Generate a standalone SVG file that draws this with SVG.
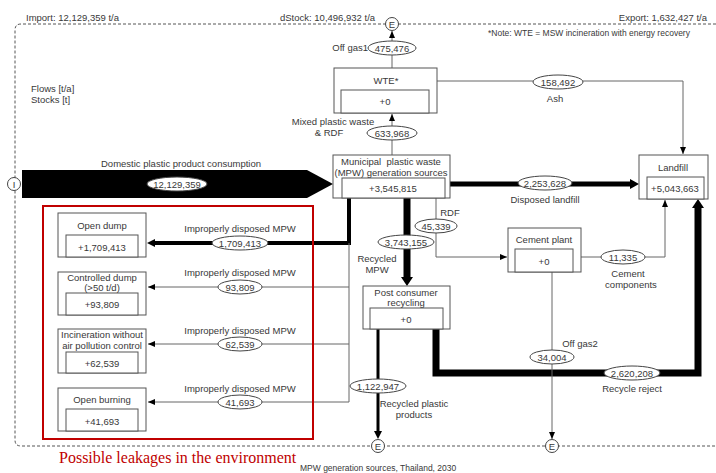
<svg xmlns="http://www.w3.org/2000/svg" width="716" height="473" viewBox="0 0 716 473">
<style>
text{font-family:"Liberation Sans",Arial,sans-serif;font-size:9.5px;fill:#383838;text-anchor:middle}
.s{text-anchor:start}
.e{text-anchor:end}
.box{fill:#fff;stroke:#555;stroke-width:1}
.el{fill:#fff;stroke:#444;stroke-width:1}
.thin{fill:none;stroke:#666;stroke-width:1}
.blk{fill:none;stroke:#000}
.hd{fill:#000}
.circ{fill:#fff;stroke:#444;stroke-width:1}
</style>
<defs>
<marker id="ar" markerUnits="userSpaceOnUse" markerWidth="8" markerHeight="7" refX="7" refY="3" orient="auto">
<path d="M0,0 L7,3 L0,6 z" fill="#000"/>
</marker>
</defs>
<rect width="716" height="473" fill="#fff"/>
<path d="M716,24 H21 Q15,24 15,30 V440 Q15,446 21,446 H716" fill="none" stroke="#555" stroke-dasharray="3,2"/>
<text class="s" x="26" y="21">Import: 12,129,359 t/a</text>
<text class="s" x="280" y="21">dStock: 10,496,932 t/a</text>
<text class="e" x="707" y="21">Export: 1,632,427 t/a</text>
<text class="s" x="488" y="36" style="font-size:8.5px">*Note: WTE = MSW incineration with energy recovery</text>
<text class="s" x="31" y="92">Flows  [t/a]</text>
<text class="s" x="31" y="103">Stocks [t]</text>

<g id="connectors">
<polygon points="22,170 307,170 333,184 307,198 22,198" fill="#000"/>
<line class="thin" x1="392" y1="68" x2="392" y2="31" marker-end="url(#ar)"/>
<line class="thin" x1="392" y1="155" x2="392" y2="114" marker-end="url(#ar)"/>
<polyline class="thin" points="437,81 683,81 683,154" marker-end="url(#ar)"/>
<line class="blk" x1="450" y1="184" x2="631" y2="184" stroke-width="5"/>
<polygon class="hd" points="630,179 639,184 630,189"/>
<polyline class="thin" points="436,198 436,257 507,257" marker-end="url(#ar)"/>
<line class="blk" x1="407" y1="198" x2="407" y2="278" stroke-width="7"/>
<polygon class="hd" points="401,277 413,277 407,286"/>
<polyline class="blk" points="349,198 349,243 155,243" stroke-width="4"/>
<polygon class="hd" points="155,239 147,243 155,247"/>
<line class="thin" x1="349" y1="243" x2="349" y2="402"/>
<line class="thin" x1="349" y1="287" x2="148" y2="287" marker-end="url(#ar)"/>
<line class="thin" x1="349" y1="344" x2="148" y2="344" marker-end="url(#ar)"/>
<line class="thin" x1="349" y1="402" x2="148" y2="402" marker-end="url(#ar)"/>
<line class="blk" x1="378" y1="329" x2="378" y2="432" stroke-width="3"/>
<polygon class="hd" points="374,431 382,431 378,439"/>
<polyline class="blk" points="436,329 436,373 698,373 698,208" stroke-width="7" stroke-linejoin="miter"/>
<polygon class="hd" points="692,208 704,208 698,199"/>
<polyline class="thin" points="581,257 665,257 665,200" marker-end="url(#ar)"/>
<line class="thin" x1="552" y1="272" x2="552" y2="439" marker-end="url(#ar)"/>

<ellipse class="el" cx="177" cy="184" rx="30" ry="7"/><text x="177" y="188">12,129,359</text>
<ellipse class="el" cx="392" cy="48" rx="24" ry="7"/><text x="392" y="52">475,476</text>
<text class="e" x="368" y="51">Off gas1</text>
<ellipse class="el" cx="392" cy="133" rx="25" ry="7"/><text x="392" y="137">633,968</text>
<text x="333" y="125">Mixed plastic waste</text>
<text x="329" y="136">&amp; RDF</text>
<ellipse class="el" cx="558" cy="82" rx="25" ry="7"/><text x="558" y="86">158,492</text>
<text x="555" y="102">Ash</text>
<ellipse class="el" cx="545" cy="183" rx="27" ry="7"/><text x="545" y="187">2,253,628</text>
<text x="545" y="203">Disposed landfill</text>
<ellipse class="el" cx="436" cy="226" rx="21" ry="7"/><text x="436" y="230">45,339</text>
<text x="450" y="216">RDF</text>
<ellipse class="el" cx="406" cy="242" rx="28" ry="7"/><text x="406" y="246">3,743,155</text>
<text x="377" y="262">Recycled</text>
<text x="377" y="273">MPW</text>
<ellipse class="el" cx="240" cy="243" rx="28" ry="7"/><text x="240" y="247">1,709,413</text>
<text x="240" y="232">Improperly disposed MPW</text>
<ellipse class="el" cx="240" cy="287" rx="22" ry="7"/><text x="240" y="291">93,809</text>
<text x="240" y="276">Improperly disposed MPW</text>
<ellipse class="el" cx="240" cy="344" rx="22" ry="7"/><text x="240" y="348">62,539</text>
<text x="240" y="334">Improperly disposed MPW</text>
<ellipse class="el" cx="240" cy="402" rx="22" ry="7"/><text x="240" y="406">41,693</text>
<text x="240" y="392">Improperly disposed MPW</text>
<ellipse class="el" cx="378" cy="386" rx="28" ry="7"/><text x="378" y="390">1,122,947</text>
<text x="414" y="407">Recycled plastic</text>
<text x="414" y="418">products</text>
<ellipse class="el" cx="552" cy="357" rx="22" ry="7"/><text x="552" y="361">34,004</text>
<text x="580" y="347">Off gas2</text>
<ellipse class="el" cx="632" cy="373" rx="28" ry="7"/><text x="632" y="377">2,620,208</text>
<text x="632" y="392">Recycle reject</text>
<ellipse class="el" cx="623" cy="257" rx="22" ry="7"/><text x="623" y="261">11,335</text>
<text x="628" y="277">Cement</text>
<text x="631" y="288">components</text>
<text x="181" y="167">Domestic plastic product consumption</text>
</g>

<g id="import-I"><circle class="circ" cx="14" cy="184" r="6.5"/><text x="14" y="188">I</text></g>
<g id="export-E1"><circle class="circ" cx="392" cy="24" r="6.5"/><text x="392" y="28">E</text></g>
<g id="export-E2"><circle class="circ" cx="378" cy="446" r="6.5"/><text x="378" y="450">E</text></g>
<g id="export-E3"><circle class="circ" cx="552" cy="446" r="6.5"/><text x="552" y="450">E</text></g>

<g id="wte">
<rect class="box" x="334" y="68" width="103" height="45"/>
<rect class="box" x="341" y="90" width="88" height="23"/>
<text x="386" y="84">WTE*</text>
<text x="385" y="105">+0</text>
</g>
<g id="mpw">
<rect class="box" x="333" y="155" width="117" height="43"/>
<rect class="box" x="342" y="178" width="103" height="20"/>
<text x="391" y="165" xml:space="preserve">Municipal  plastic waste</text>
<text x="391" y="176">(MPW) generation sources</text>
<text x="393" y="192">+3,545,815</text>
</g>
<g id="landfill">
<rect class="box" x="639" y="155" width="69" height="44"/>
<rect class="box" x="647" y="177" width="57" height="22"/>
<text x="673" y="171">Landfill</text>
<text x="675" y="192">+5,043,663</text>
</g>
<g id="cement-plant">
<rect class="box" x="508" y="228" width="73" height="44"/>
<rect class="box" x="515" y="249" width="58" height="23"/>
<text x="544" y="243">Cement plant</text>
<text x="544" y="265">+0</text>
</g>
<g id="post-consumer-recycling">
<rect class="box" x="363" y="286" width="87" height="43"/>
<rect class="box" x="370" y="308" width="73" height="21"/>
<text x="406" y="296">Post consumer</text>
<text x="406" y="306">recycling</text>
<text x="406" y="323">+0</text>
</g>
<g id="open-dump">
<rect class="box" x="58" y="213" width="88" height="44"/>
<rect class="box" x="66" y="235" width="72" height="22"/>
<text x="102" y="229">Open dump</text>
<text x="102" y="251">+1,709,413</text>
</g>
<g id="controlled-dump">
<rect class="box" x="58" y="272" width="88" height="43"/>
<rect class="box" x="66" y="293" width="72" height="22"/>
<text x="102" y="281">Controlled dump</text>
<text x="102" y="291">(&gt;50 t/d)</text>
<text x="102" y="308">+93,809</text>
</g>
<g id="incineration">
<rect class="box" x="58" y="329" width="88" height="44"/>
<rect class="box" x="66" y="352" width="72" height="21"/>
<text x="102" y="338">Incineration without</text>
<text x="102" y="349">air pollution control</text>
<text x="102" y="367">+62,539</text>
</g>
<g id="open-burning">
<rect class="box" x="58" y="388" width="88" height="43"/>
<rect class="box" x="66" y="409" width="72" height="22"/>
<text x="102" y="403">Open burning</text>
<text x="102" y="425">+41,693</text>
</g>

<rect x="43" y="206" width="270" height="233" fill="none" stroke="#c00000" stroke-width="2"/>
<text class="s" x="59" y="463" style="font-family:'Liberation Serif','Times New Roman',serif;font-size:16px;fill:#c00000">Possible leakages in the environment</text>
<text class="s" x="300" y="471" style="font-size:8.5px">MPW generation sources, Thailand, 2030</text>
</svg>
